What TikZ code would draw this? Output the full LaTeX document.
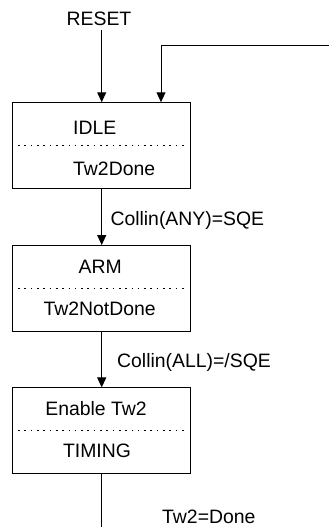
\documentclass[tikz,border=0pt]{standalone}
\usepackage{fontspec}
\setmainfont{Liberation Sans}
\usetikzlibrary{arrows.meta}
\begin{document}
\begin{tikzpicture}[x=1pt,y=-1pt,
  line width=1pt,
  statebox/.style={draw, line width=1pt, minimum width=178pt, minimum height=85.5pt, inner sep=0pt},
  txt/.style={inner sep=0pt, font=\fontsize{19.4}{22}\selectfont},
  sep/.style={line width=0.9pt, dash pattern=on 1.6pt off 4.7pt},
  arr/.style={-{Triangle[width=9pt,length=10pt]}}]
\useasboundingbox (0,0) rectangle (329,527);
% boxes
\node[statebox] (idle) at (101.3,145.5) {};
\node[statebox] (arm)  at (101.3,288.3) {};
\node[statebox] (tim)  at (101.3,430.7) {};
% separators
\foreach \b in {idle,arm,tim}{
  \draw[sep] (\b.west) -- ([xshift=-4pt]\b.east);
}
% texts
\node[txt, anchor=base] (reset) at (99,25.7) {RESET};
\node[txt, anchor=base west] (t1a) at (72.7,134) {IDLE};
\node[txt, anchor=base west] (t1b) at (72.7,175) {Tw2Done};
\node[txt, anchor=base] (t2a) at (100.3,273.3) {ARM};
\node[txt, anchor=base] (t2b) at (99.7,315) {Tw2NotDone};
\node[txt, anchor=base] (t3a) at (96,415) {Enable Tw2};
\node[txt, anchor=base] (t3b) at (97,457.3) {TIMING};
\node[txt, anchor=base west] (l1) at (110,225) {Collin(ANY)=SQE};
\node[txt, anchor=base west] (l2) at (116.7,367.3) {Collin(ALL)=/SQE};
\node[txt, anchor=base west] (l3) at (161.7,523.3) {Tw2=Done};
% connectors
\coordinate (rs) at (101.7,30);
\coordinate (loopR) at (330,46);
\coordinate (loopC) at (161,46);
\coordinate (bot) at (101.7,528);
\draw[arr] (rs) -- (rs |- idle.north);
\draw[arr] (loopR) -- (loopC) -- (loopC |- idle.north);
\draw[arr] (idle.south -| rs) -- (arm.north -| rs);
\draw[arr] (arm.south -| rs) -- (tim.north -| rs);
\draw (tim.south -| rs) -- (bot);
\end{tikzpicture}
\end{document}
